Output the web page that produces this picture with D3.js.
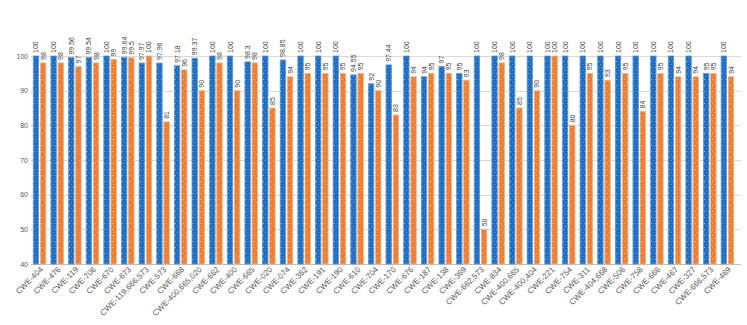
<!DOCTYPE html>
<html>
<head>
<meta charset="utf-8">
<script src="https://cdn.jsdelivr.net/npm/d3@7"></script>
<style>
  body { margin: 0; background: #fff; }
  svg { display: block; font-family: "Liberation Sans", Arial, sans-serif; }
</style>
</head>
<body>
<div id="chart"></div>
<script>
// categories and the two series
const categories = ['CWE-404', 'CWE-476', 'CWE-119', 'CWE-706', 'CWE-670', 'CWE-673', 'CWE-119,666,573',
  'CWE-573', 'CWE-668', 'CWE-400,665,020', 'CWE-662', 'CWE-400', 'CWE-665', 'CWE-020', 'CWE-074',
  'CWE-362', 'CWE-191', 'CWE-190', 'CWE-610', 'CWE-704', 'CWE-170', 'CWE-676', 'CWE-187', 'CWE-138',
  'CWE-369', 'CWE-662,573', 'CWE-834', 'CWE-400,665', 'CWE-400,404', 'CWE-221', 'CWE-754', 'CWE-311',
  'CWE-404,668', 'CWE-506', 'CWE-758', 'CWE-666', 'CWE-467', 'CWE-327', 'CWE-666,573', 'CWE-469']

const seriesA = [100, 100, 99.56, 99.54, 100, 99.64, 97.97, 97.96, 97.18, 99.37, 100, 100, 98.3, 100, 98.85,
  100, 100, 100, 94.55, 92, 97.44, 100, 94, 97, 95, 100, 100, 100, 100, 100, 100, 100,
  100, 100, 100, 100, 100, 100, 95, 100]

const seriesB = [98, 98, 97, 98, 99, 99.5, 100, 81, 96, 90, 98, 90, 98, 85, 94,
  95, 95, 95, 95, 90, 83, 94, 95, 95, 93, 50, 98, 85, 90, 100, 80, 95,
  93, 95, 84, 95, 94, 94, 95, 94]

const yTicks = [40, 50, 60, 70, 80, 90, 100]

const width = 747
const height = 325

var svg = d3.select('#chart').append('svg')
    .attr('width', width)
    .attr('height', height)

// sparse dotted fills, like the excel pattern fill
var defs = svg.append('defs')
function dotPattern(id, base, dot) {
    var p = defs.append('pattern')
        .attr('id', id)
        .attr('patternUnits', 'userSpaceOnUse')
        .attr('width', 4).attr('height', 6)
    p.append('rect').attr('width', 4).attr('height', 6).attr('fill', base)
    p.append('rect').attr('x', 1).attr('y', 1).attr('width', 1).attr('height', 1).attr('fill', dot)
    p.append('rect').attr('x', 3).attr('y', 4).attr('width', 1).attr('height', 1).attr('fill', dot).attr('opacity', 0.5)
}
dotPattern('dotsBlue', '#1e6dc2', '#9cc3ec')
dotPattern('dotsOrange', '#ed7d31', '#f9c9a4')

var x = d3.scaleBand()
    .domain(categories)
    .range([31, 736])
    .paddingInner(0.23)
    .paddingOuter(0.1)

var xInner = d3.scaleBand()
    .domain(['a', 'b'])
    .range([0, x.bandwidth()])
    .paddingInner(0.1)

var y = d3.scaleLinear()
    .domain([40, 100])
    .range([264, 56])

// gridlines
svg.append('g')
    .selectAll('line')
    .data(yTicks)
    .enter().append('line')
    .attr('x1', 31)
    .attr('x2', 741)
    .attr('y1', function (d) { return Math.round(y(d)) + 0.5 })
    .attr('y2', function (d) { return Math.round(y(d)) + 0.5 })
    .attr('stroke', function (d) { return d === 40 ? '#bfbfbf' : '#d9d9d9' })
    .attr('stroke-width', 1)

// y tick labels
svg.append('g')
    .selectAll('text')
    .data(yTicks)
    .enter().append('text')
    .attr('x', 28)
    .attr('y', function (d) { return y(d) + 2.5 })
    .attr('text-anchor', 'end')
    .attr('font-size', 7)
    .attr('fill', '#595959')
    .text(function (d) { return d })

var rows = categories.map(function (c, i) {
    return { cat: c, a: seriesA[i], b: seriesB[i] }
})

var groups = svg.append('g')
    .selectAll('g')
    .data(rows)
    .enter().append('g')
    .attr('transform', function (d) { return 'translate(' + x(d.cat) + ',0)' })

var series = [
    { key: 'a', fill: 'url(#dotsBlue)', stroke: '#5b9bd5' },
    { key: 'b', fill: 'url(#dotsOrange)', stroke: '#f4b183' }
]

series.forEach(function (s) {
    groups.append('rect')
        .attr('x', xInner(s.key) + 0.5)
        .attr('y', function (d) { return y(d[s.key]) })
        .attr('width', xInner.bandwidth() - 1)
        .attr('height', function (d) { return y(40) - y(d[s.key]) })
        .attr('fill', s.fill)
        .attr('stroke', s.stroke)
        .attr('stroke-width', 0.8)

    // rotated value labels above each bar
    groups.append('text')
        .attr('transform', function (d) {
            var cx = xInner(s.key) + xInner.bandwidth() / 2 + 2.5
            return 'translate(' + cx + ',' + (y(d[s.key]) - 3) + ') rotate(-90)'
        })
        .attr('font-size', 7)
        .attr('fill', '#404040')
        .text(function (d) { return d[s.key] })
})

// category labels at 45 degrees
svg.append('g')
    .selectAll('text')
    .data(categories)
    .enter().append('text')
    .attr('transform', function (d) {
        return 'translate(' + (x(d) + x.bandwidth() / 2 + 4) + ',270) rotate(-45)'
    })
    .attr('text-anchor', 'end')
    .attr('font-size', 8)
    .attr('fill', '#595959')
    .text(function (d) { return d })
</script>
</body>
</html>
